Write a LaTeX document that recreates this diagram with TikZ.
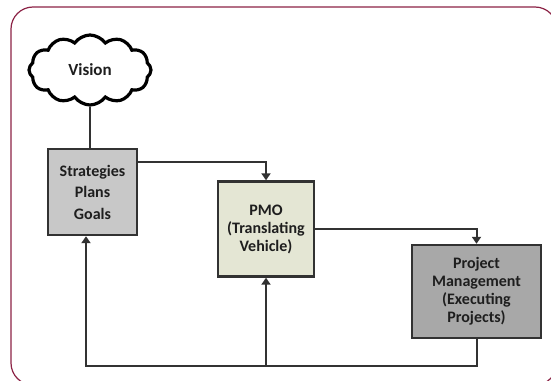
\documentclass[tikz,border=0pt]{standalone}
\usepackage{fontspec}
\setmainfont{Carlito}
\usetikzlibrary{arrows.meta,shapes.symbols,calc}
\definecolor{frame}{RGB}{140,35,70}
\definecolor{lineC}{RGB}{50,50,50}
\definecolor{stratfill}{RGB}{200,200,200}
\definecolor{pmofill}{RGB}{228,230,212}
\definecolor{pmfill}{RGB}{168,168,168}
\definecolor{txt}{RGB}{30,30,30}
\tikzset{
  box/.style={draw=lineC, line width=2.4pt, rectangle, align=center, text=txt,
    font=\bfseries\fontsize{16}{18}\selectfont, inner sep=0pt},
  conn/.style={draw=lineC, line width=2pt},
  arr/.style={conn, -{Triangle[width=9pt,length=7pt]}},
}
\begin{document}
\begin{tikzpicture}[x=1pt,y=-1pt]
\useasboundingbox (0,0) rectangle (551,380);
\clip (0,0) rectangle (551,380);
\fill[white] (0,0) rectangle (551,380);
\draw[frame, line width=1.2pt, rounded corners=22pt] (11,7) rectangle (557,385);

\node[cloud, draw=black, line width=3.2pt, cloud puffs=12, cloud puff arc=110, aspect=1.7,
  minimum width=122pt, minimum height=70pt, inner sep=0pt, fill=white,
  font=\bfseries\fontsize{17}{18}\selectfont, text=txt] (vision) at (90,70) {Vision};

\node[box, fill=stratfill, minimum width=89pt, minimum height=86pt,
  font=\bfseries\fontsize{16}{21.5}\selectfont] (strat) at (92.5,192) {Strategies\\Plans\\Goals};
\node[box, fill=pmofill, minimum width=96pt, minimum height=95pt] (pmo) at (266,229) {PMO\\(Translating\\Vehicle)};
\node[box, fill=pmfill, minimum width=129pt, minimum height=93pt] (pm) at (476.5,291.5) {Project\\Management\\(Executing\\Projects)};

\coordinate (fb) at (0,366);

\draw[conn] (vision.south) -- (vision.south |- strat.north);
\draw[arr] ([yshift=30pt]strat.east) -| (pmo.north);
\draw[arr] (pmo.east) -| (pm.north);
\draw[arr] (pm.south) |- ([xshift=-6.5pt]strat.south |- fb) -- ([xshift=-6.5pt]strat.south);
\draw[arr] (pmo.south |- fb) -- (pmo.south);
\end{tikzpicture}
\end{document}
